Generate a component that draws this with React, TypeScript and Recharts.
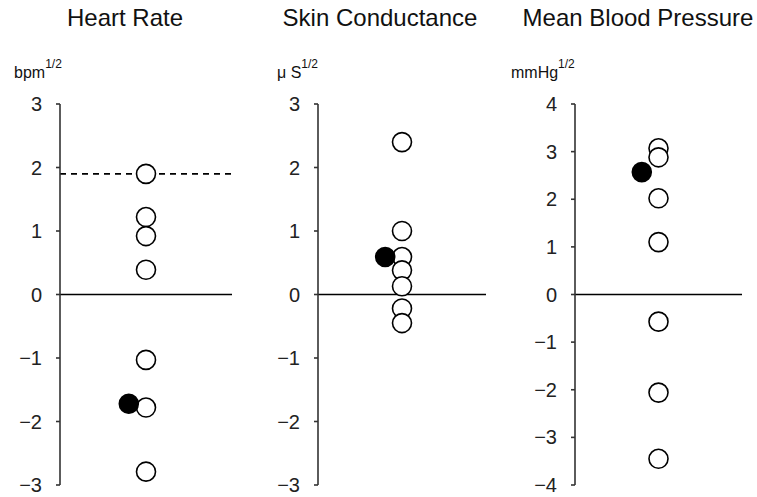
import React from "react";
import { ScatterChart, Scatter, XAxis, YAxis, ReferenceLine } from "recharts";

const titles = ["Heart Rate", "Skin Conductance", "Mean Blood Pressure"];
const units = ["bpm", "\u03bc S", "mmHg"];
const unitExp = "1/2";

const hrOpen = [1.9, 1.22, 0.92, 0.39, -1.03, -1.78, -2.79];
const hrFilled = [-1.72];
const scOpen = [2.4, 1.0, 0.59, 0.38, 0.13, -0.22, -0.45];
const scFilled = [0.59];
const bpOpen = [3.07, 2.88, 2.02, 1.1, -0.57, -2.06, -3.45];
const bpFilled = [2.57];

const hrThreshold = 1.9;

const ticks3 = [-3, -2, -1, 0, 1, 2, 3];
const ticks4 = [-4, -3, -2, -1, 0, 1, 2, 3, 4];

const OPEN_X = 1;
const FILLED_X = 0.8;

const toPts = (vals: number[], x: number) => vals.map((y) => ({ x, y }));
const fmt = (v: number) => (v < 0 ? "\u2212" + Math.abs(v) : String(v));

const FONT = "'Liberation Sans', Arial, sans-serif";

const dot = (fill: string) => (props: any) => (
  <circle cx={props.cx} cy={props.cy} r={9.5} fill={fill} stroke="#000" strokeWidth={1.6} />
);

type PanelProps = {
  left: number;
  width: number;
  yWidth: number;
  right: number;
  domain: [number, number];
  ticks: number[];
  open: number[];
  filled: number[];
  threshold?: number;
};

function Panel(p: PanelProps) {
  return (
    <div style={{ position: "absolute", left: p.left, top: 0 }}>
      <ScatterChart
        width={p.width}
        height={497}
        margin={{ top: 104, bottom: 12, left: 0, right: p.right }}
      >
        <XAxis type="number" dataKey="x" domain={[0, 2]} hide />
        <YAxis
          type="number"
          dataKey="y"
          domain={p.domain}
          ticks={p.ticks}
          width={p.yWidth}
          tickFormatter={fmt}
          tickSize={4}
          tickMargin={14}
          axisLine={{ stroke: "#333", strokeWidth: 1.6 }}
          tickLine={{ stroke: "#333", strokeWidth: 1.6 }}
          tick={{ fill: "#222", fontSize: 20, fontFamily: FONT }}
          interval={0}
        />
        <ReferenceLine y={0} stroke="#000" strokeWidth={1.6} />
        {p.threshold !== undefined && (
          <ReferenceLine y={p.threshold} stroke="#000" strokeWidth={1.6} strokeDasharray="6 5" />
        )}
        <Scatter data={toPts(p.open, OPEN_X)} shape={dot("#fff")} isAnimationActive={false} />
        <Scatter data={toPts(p.filled, FILLED_X)} shape={dot("#000")} isAnimationActive={false} />
      </ScatterChart>
    </div>
  );
}

export default function App() {
  const titleX = [125, 380, 638];
  const unitX = [14, 277, 511];
  return (
    <div style={{ position: "absolute", left: 0, top: 0, width: 757, height: 497, background: "#fff" }}>
      <Panel left={0} width={250} yWidth={60} right={18} domain={[-3, 3]} ticks={ticks3} open={hrOpen} filled={hrFilled} threshold={hrThreshold} />
      <Panel left={250} width={250} yWidth={68} right={14} domain={[-3, 3]} ticks={ticks3} open={scOpen} filled={scFilled} />
      <Panel left={500} width={257} yWidth={75} right={15} domain={[-4, 4]} ticks={ticks4} open={bpOpen} filled={bpFilled} />
      <svg width={757} height={497} style={{ position: "absolute", left: 0, top: 0, pointerEvents: "none" }}>
        {titles.map((t, i) => (
          <text key={t} x={titleX[i]} y={26} textAnchor="middle" fontSize={24} fontFamily={FONT} fill="#111">
            {t}
          </text>
        ))}
        {units.map((u, i) => (
          <text key={u} x={unitX[i]} y={78} fontSize={16} fontFamily={FONT} fill="#111">
            {u}
            <tspan fontSize={12} dy={-10}>{unitExp}</tspan>
          </text>
        ))}
      </svg>
    </div>
  );
}
